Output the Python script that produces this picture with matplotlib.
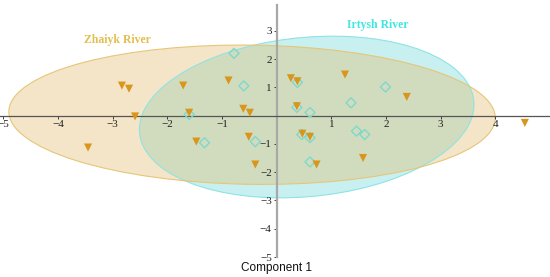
import matplotlib
matplotlib.use("Agg")
import matplotlib.pyplot as plt
from matplotlib.patches import Ellipse

# PCA scores
zhaiyk_x = [-2.83, -2.70, -1.71, -0.88, -2.59, -1.60, -0.61, -0.49, -3.45, -1.47, -0.51,
            -0.39, 0.26, 0.38, 1.25, 2.38, 0.37, 4.54, 0.47, 0.61, 1.58, 0.73]
zhaiyk_y = [1.06, 0.95, 1.06, 1.24, -0.03, 0.10, 0.24, 0.10, -1.13, -0.92, -0.75,
            -1.73, 1.32, 1.21, 1.45, 0.66, 0.33, -0.26, -0.64, -0.75, -1.50, -1.73]

irtysh_x = [-0.78, -0.60, -1.60, -1.32, -0.39, 0.38, 1.99, 0.37, 0.61, 1.36, 1.46,
            1.61, 0.46, 0.61, 0.61]
irtysh_y = [2.20, 1.05, 0.04, -0.96, -0.92, 1.17, 1.01, 0.29, 0.11, 0.45, -0.55,
            -0.67, -0.67, -0.78, -1.64]

# confidence ellipses: centre, full width, full height, angle
zhaiyk_ell = (-0.45, 0.03, 8.9, 4.92, -2)
irtysh_ell = (0.55, -0.05, 6.4, 5.4, 33)

xticks = [-5, -4, -3, -2, -1, 1, 2, 3, 4]
yticks = [-5, -4, -3, -2, -1, 1, 2, 3]

fig = plt.figure(figsize=(5.5, 2.77), dpi=100)
ax = fig.add_axes([0, 0.0722, 1, 0.982 - 0.0722])
ax.set_xlim(-5.06, 5.0)
ax.set_ylim(-5.0, 3.91)

cx, cy, w, h, ang = irtysh_ell
ax.add_patch(Ellipse((cx, cy), w, h, angle=ang, facecolor="#62d4d4", alpha=0.35,
                     edgecolor="none", zorder=1))
ax.add_patch(Ellipse((cx, cy), w, h, angle=ang, facecolor="none",
                     edgecolor="#8fe3e3", lw=0.8, zorder=1.5))
cx, cy, w, h, ang = zhaiyk_ell
ax.add_patch(Ellipse((cx, cy), w, h, angle=ang, facecolor="#e2b762", alpha=0.35,
                     edgecolor="none", zorder=1))
ax.add_patch(Ellipse((cx, cy), w, h, angle=ang, facecolor="none",
                     edgecolor="#e6c678", lw=0.8, zorder=1.5))

ax.scatter(irtysh_x, irtysh_y, marker="D", s=26, facecolors="none",
           edgecolors="#7fd8cc", linewidths=1.0, zorder=3)
ax.scatter(zhaiyk_x, zhaiyk_y, marker="v", s=34, color="#d9961c",
           edgecolors="none", zorder=4)

ax.text(-2.92, 2.67, "Zhaiyk River", family="Liberation Serif", fontweight="bold",
        fontsize=8.5, color="#e3bf50", ha="center", va="center")
ax.text(1.85, 3.2, "Irtysh River", family="Liberation Serif", fontweight="bold",
        fontsize=8.5, color="#40e6e0", ha="center", va="center")

ax.spines["left"].set_position(("data", 0))
ax.spines["bottom"].set_position(("data", 0))
ax.spines["top"].set_visible(False)
ax.spines["right"].set_visible(False)
ax.spines["left"].set_color("#a8a8a8")
ax.spines["left"].set_linewidth(1.6)
ax.spines["bottom"].set_color("#555555")
ax.spines["bottom"].set_linewidth(0.9)

ax.set_xticks(xticks)
ax.set_yticks(yticks)
ax.tick_params(direction="out", length=2, width=0.6, pad=1.5,
               labelsize=8, colors="#222222")
for lab in ax.get_xticklabels() + ax.get_yticklabels():
    lab.set_family("Liberation Serif")
ax.patch.set_alpha(0)

fig.text(0.503, 0.032, "Component 1", family="Liberation Sans", fontsize=8.5,
         ha="center", va="center", color="#111111")

fig.savefig("out.png", dpi=100)
